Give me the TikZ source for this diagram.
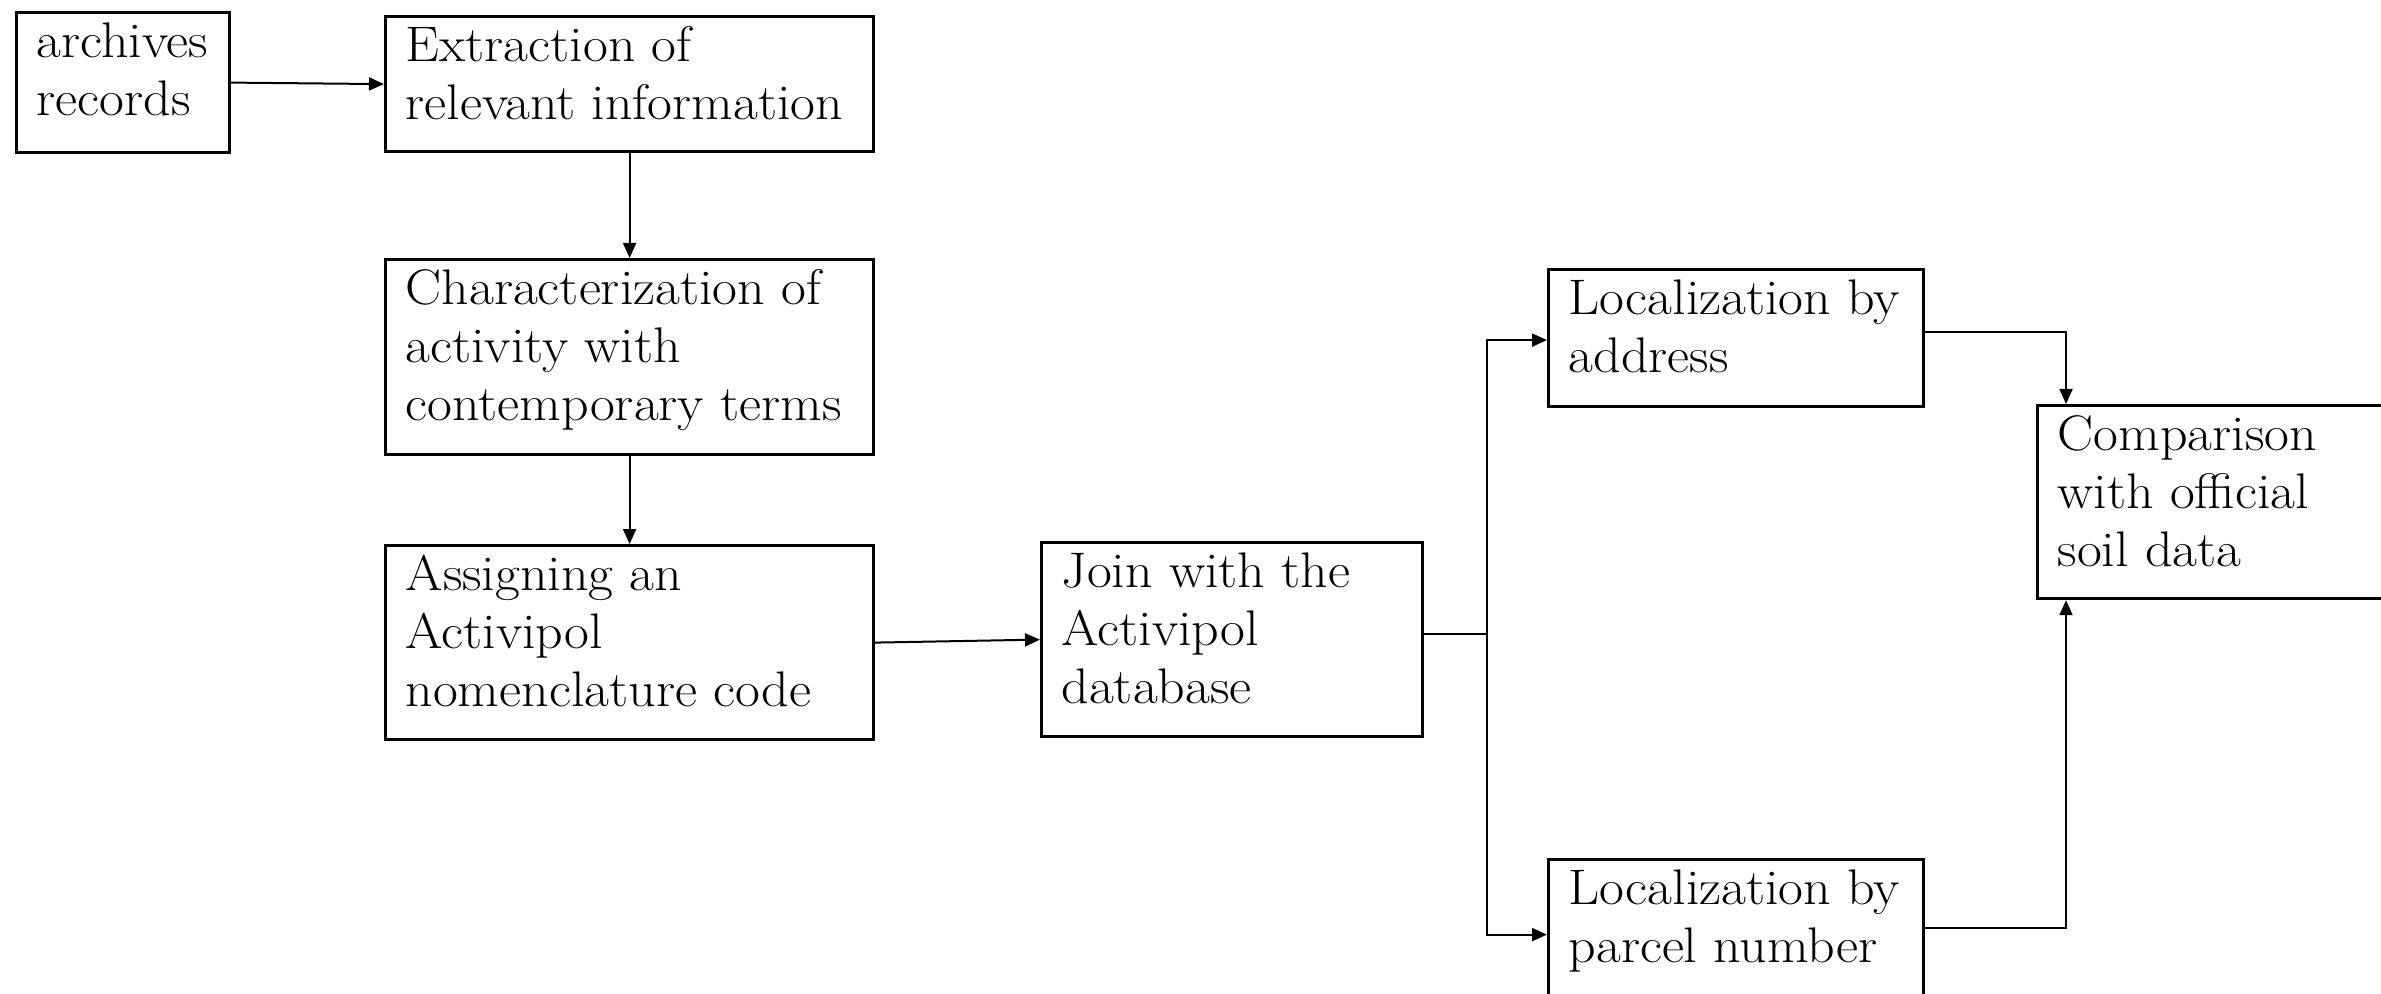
\documentclass[tikz,border=0pt]{standalone}
\usepackage{fontspec}
\setmainfont{Latin Modern Roman}[FakeStretch=1.08]
\usetikzlibrary{arrows.meta}
\newcommand{\bt}[3]{\begin{minipage}[c][#2][t]{#1}\raggedright\leftskip=10pt\rule{0pt}{22.5pt}\ignorespaces #3\end{minipage}}
\begin{document}
\begin{tikzpicture}[x=0.5pt,y=-0.5pt,
  every node/.style={font=\fontsize{25pt}{29pt}\selectfont},
  box/.style={draw, line width=1.6pt, inner sep=0pt, anchor=north west},
  arr/.style={line width=1pt, -{Triangle[length=7.5pt,width=6.5pt]}},
  ln/.style={line width=1pt}]
\clip (0,0) rectangle (2381,994);
\fill[white] (0,0) rectangle (2381,994);
\node[box] (arch) at (15,11) {\bt{106.5pt}{70pt}{archives\\records}};
\node[box] (extr) at (384,15) {\bt{244pt}{67.5pt}{Extraction of\\relevant information}};
\node[box] (char) at (384,258) {\bt{244pt}{97.5pt}{Characterization of\\activity with\\contemporary terms}};
\node[box] (assign) at (384,544) {\bt{244pt}{97pt}{Assigning an\\Activipol\\nomenclature code}};
\node[box] (join) at (1040,541) {\bt{190.5pt}{97pt}{Join with the\\Activipol\\database}};
\node[box] (loca) at (1547,268) {\bt{187.5pt}{68.5pt}{Localization by\\address}};
\node[box] (locp) at (1547,858) {\bt{187.5pt}{68pt}{Localization by\\parcel number}};
\node[box] (comp) at (2036,404) {\bt{180pt}{96.5pt}{Comparison\\with official\\soil data}};
\draw[arr] (arch.east) -- (extr.west);
\draw[arr] (extr.south) -- (char.north);
\draw[arr] (char.south) -- (assign.north);
\draw[arr] (assign.east) -- (join.west);
\draw[ln] ([yshift=3pt]join.east) -- ++(31.5pt,0) coordinate (fork);
\draw[arr] (fork) |- ([yshift=-1pt]loca.west);
\draw[arr] (fork) |- ([yshift=-3.5pt]locp.west);
\draw[arr] ([yshift=3pt]loca.east) -| ([xshift=15pt]comp.north west);
\draw[arr] (locp.east) -| ([xshift=15pt]comp.south west);
\end{tikzpicture}
\end{document}
